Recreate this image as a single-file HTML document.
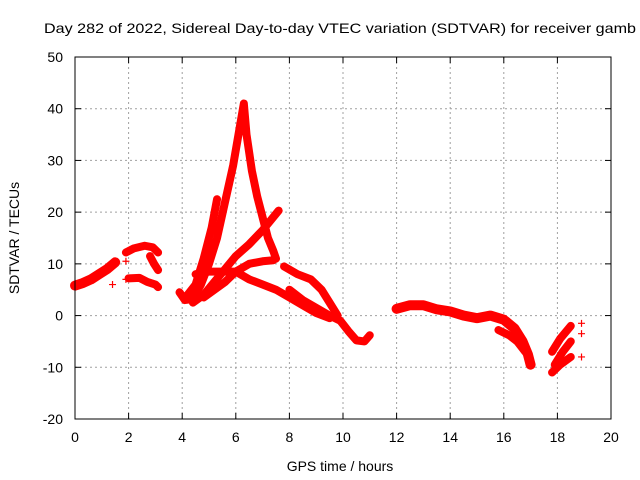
<!DOCTYPE html>
<html><head><meta charset="utf-8"><style>
body{margin:0;background:#fff;}
svg{display:block;font-family:"Liberation Sans",sans-serif;}
</style></head><body>
<svg id="chart" width="640" height="480">
<text x="44" y="33" font-size="14" textLength="592" lengthAdjust="spacingAndGlyphs">Day 282 of 2022, Sidereal Day-to-day VTEC variation (SDTVAR) for receiver gamb</text>
<text x="340" y="471" font-size="14" text-anchor="middle">GPS time / hours</text>
<text transform="translate(19,238) rotate(-90)" font-size="14" text-anchor="middle">SDTVAR / TECUs</text>
<g id="grid"></g><g id="ticks"></g><g id="marks"></g>
<rect x="75" y="57" width="536" height="362" fill="none" stroke="#000" stroke-width="1"/>
</svg>
<script>
const xTicks=[0,2,4,6,8,10,12,14,16,18,20];
const yTicks=[-20,-10,0,10,20,30,40,50];
const seriesA=[[0,5.8],[0.3,6.3],[0.6,7],[0.9,8],[1.2,9],[1.5,10.3]];
const seriesB1=[[1.9,12.2],[2.2,13],[2.6,13.5],[2.9,13.2],[3.1,12.2]];
const seriesB2=[[2.8,11.5],[2.95,10],[3.1,8.8]];
const seriesB3=[[2.0,7.2],[2.4,7.3],[2.7,6.5],[3.0,6],[3.1,5.5]];
const seriesP=[[3.9,4.5],[4.1,3],[4.4,3.2],[4.7,6],[5.0,10],[5.3,15],[5.6,22],[5.9,29],[6.1,35],[6.3,41],[6.4,35],[6.6,28],[6.8,23],[7.0,19],[7.2,15],[7.4,12.5],[7.5,11]];
const seriesQ=[[4.2,4],[4.5,6],[4.8,11],[5.1,17],[5.3,22.5]];
const seriesC=[[4.4,2.5],[4.8,4],[5.2,6.5],[5.6,9],[6.0,11.5],[6.5,13.8],[7.0,16.5],[7.6,20.3]];
const seriesD=[[4.8,3.5],[5.2,5],[5.6,6.5],[6.0,8.5],[6.5,10],[7.0,10.5],[7.4,10.7]];
const seriesE=[[4.5,8],[5.0,8.5],[5.5,8.5],[6.0,8.5],[6.5,7],[7.0,6],[7.5,5],[8.0,3.5],[8.5,2],[9.0,0.5],[9.5,-0.5]];
const seriesF=[[7.8,9.5],[8.3,8],[8.8,7],[9.2,5],[9.5,2.5],[9.8,0]];
const seriesG=[[8.0,5],[8.5,3],[9.0,1.5],[9.5,0],[9.9,-1],[10.2,-3],[10.5,-4.8],[10.8,-5],[11.0,-3.8]];
const seriesH=[[12.0,1.3],[12.5,2],[13.0,2],[13.5,1.2],[14.0,0.8],[14.5,0],[15.0,-0.5],[15.5,0],[16.0,-0.8],[16.4,-2.5],[16.7,-5],[16.9,-7.5],[17.0,-9.5]];
const seriesH2=[[15.8,-2.8],[16.2,-3.8],[16.5,-5],[16.8,-7]];
const seriesI1=[[17.8,-7],[18.1,-4.5],[18.5,-2]];
const seriesI2=[[17.9,-9.5],[18.2,-7],[18.5,-5]];
const seriesI3=[[17.8,-11],[18.1,-9.5],[18.5,-8]];
const singles=[[1.4,6],[1.9,10.5],[1.9,7],[18.9,-1.5],[18.9,-3.5],[18.9,-8]];
const allSeries=[seriesA,seriesB1,seriesB2,seriesB3,seriesP,seriesQ,seriesC,seriesD,seriesE,seriesF,seriesG,seriesH,seriesH2,seriesI1,seriesI2,seriesI3];
const NS='http://www.w3.org/2000/svg';
const X=h=>75+(h/20)*536, Y=v=>419-((v+20)/70)*362;
function mk(t,a,p){const e=document.createElementNS(NS,t);for(const k in a)e.setAttribute(k,a[k]);p.appendChild(e);return e;}
const grid=document.getElementById('grid'),ticks=document.getElementById('ticks'),marks=document.getElementById('marks');
xTicks.forEach(t=>{const x=X(t);
 if(t>0&&t<20){const g=mk('line',{x1:x,x2:x,y1:57,y2:419,stroke:'#a0a0a0','stroke-dasharray':'2,3'},grid);}
 mk('line',{x1:x,x2:x,y1:419,y2:413,stroke:'#000'},ticks);mk('line',{x1:x,x2:x,y1:57,y2:63,stroke:'#000'},ticks);
 const l=mk('text',{x:x,y:442,'font-size':14,'text-anchor':'middle'},ticks);l.textContent=t;
 });
yTicks.forEach(t=>{const y=Y(t);
 if(t>-20&&t<50){const g=mk('line',{x1:75,x2:611,y1:y,y2:y,stroke:'#a0a0a0','stroke-dasharray':'2,3'},grid);}
 mk('line',{x1:75,x2:81,y1:y,y2:y,stroke:'#000'},ticks);mk('line',{x1:611,x2:605,y1:y,y2:y,stroke:'#000'},ticks);
 const l=mk('text',{x:63,y:y+5,'font-size':14,'text-anchor':'end'},ticks);l.textContent=t;
 });
function plus(h,v){const x=X(h),y=Y(v);
 const p=mk('path',{d:`M${x-3.5},${y}H${x+3.5}M${x},${y-3.5}V${y+3.5}`,stroke:'#f00','stroke-width':1.2},marks);
 }
allSeries.forEach(s=>{
 const w=(s===seriesH||s===seriesA)?10:8;
 const pl=mk('polyline',{points:s.map(p=>X(p[0])+','+Y(p[1])).join(' '),fill:'none',stroke:'#f00','stroke-width':w,'stroke-linejoin':'round','stroke-linecap':'round'},marks);
 
 s.forEach(p=>plus(p[0],p[1]));});
singles.forEach(p=>plus(p[0],p[1]));
</script>
</body></html>
